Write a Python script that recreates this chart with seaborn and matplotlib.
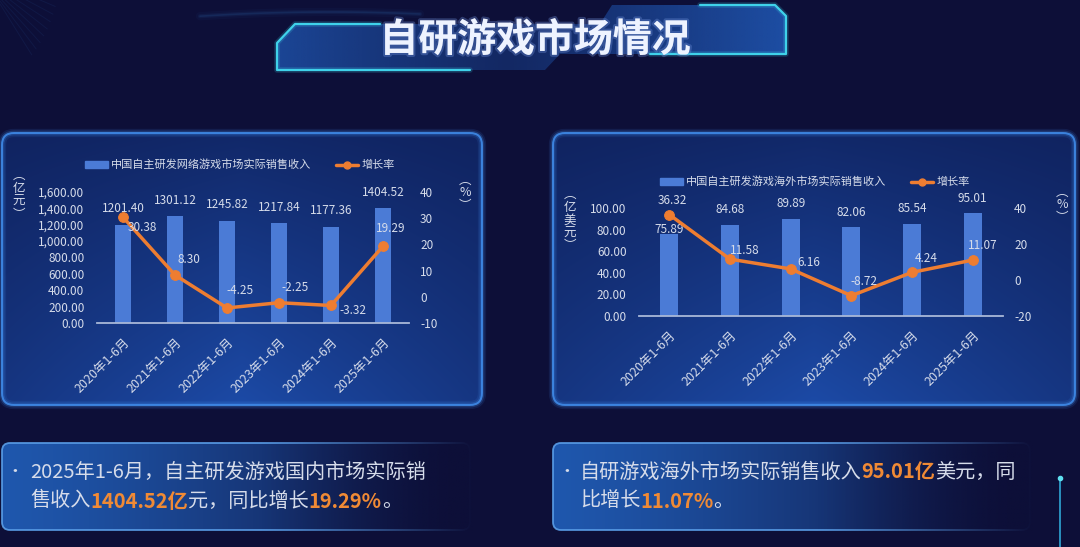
import numpy as np
import pandas as pd
import seaborn as sns
import matplotlib.pyplot as plt
import matplotlib.patheffects as pe
from matplotlib.patches import FancyBboxPatch, Polygon, Patch
from matplotlib.lines import Line2D

# data
periods = ["2020年1-6月", "2021年1-6月", "2022年1-6月", "2023年1-6月", "2024年1-6月", "2025年1-6月"]
domestic_rev = [1201.40, 1301.12, 1245.82, 1217.84, 1177.36, 1404.52]
domestic_growth = [30.38, 8.30, -4.25, -2.25, -3.32, 19.29]
overseas_rev = [75.89, 84.68, 89.89, 82.06, 85.54, 95.01]
overseas_growth = [36.32, 11.58, 6.16, -8.72, 4.24, 11.07]

domestic_name = "中国自主研发网络游戏市场实际销售收入"
overseas_name = "中国自主研发游戏海外市场实际销售收入"
growth_name = "增长率"
title = "自研游戏市场情况"

W, H = 1080, 547
BG = "#0d0f38"
BAR = "#4b7bd6"
ORANGE = "#ee7d31"
TXT = "#d6dcea"
HL = "#f08a35"

sns.set_theme(style="white")
plt.rcParams["font.family"] = ["Noto Sans CJK SC", "DejaVu Sans"]

fig = plt.figure(figsize=(W / 100, H / 100), dpi=100, facecolor=BG)
bg = fig.add_axes([0, 0, 1, 1])
bg.set_xlim(0, W)
bg.set_ylim(H, 0)
bg.set_autoscale_on(False)
bg.axis("off")


def px_rect(x0, y0, x1, y1):
    return [x0 / W, 1 - y1 / H, (x1 - x0) / W, (y1 - y0) / H]


def hex_rgb(c):
    c = c.lstrip("#")
    return np.array([int(c[i:i + 2], 16) / 255 for i in (0, 2, 4)])


#faint rays in the top-left corner and a swoosh toward the banner
for k in range(9):
    ang = np.deg2rad(18 + k * 5)
    bg.plot([0, 60 * np.cos(ang)], [-20 + k * 3, 60 * np.sin(ang) - 20 + k * 3],
            color="#2a5fa8", lw=0.7, alpha=0.12, zorder=0)
sx = np.linspace(200, 420, 60)
for lw, a in [(6, 0.04), (3, 0.07), (1.2, 0.12)]:
    bg.plot(sx, 12 + 0.00025 * (sx - 330) ** 2, color="#3a86d8", lw=lw, alpha=a, zorder=0)


#panels behind the charts
def panel(x0, y0, x1, y1):
    box = FancyBboxPatch((x0, y0), x1 - x0, y1 - y0, boxstyle="round,pad=0,rounding_size=12",
                         fc="none", ec="none")
    bg.add_patch(box)
    yy, xx = np.mgrid[0:1:120j, 0:1:240j]
    t = (0.25 + 0.75 * yy) * (1 - 0.45 * np.abs(xx - 0.5) * 2)
    top, bot = hex_rgb("#0e1d55"), hex_rgb("#1c4aa6")
    img = top + (bot - top) * t[..., None]
    im = bg.imshow(img, extent=(x0, x1, y1, y0), aspect="auto", zorder=1, interpolation="bilinear")
    im.set_clip_path(box)
    for lw, a in [(6, 0.12), (3.5, 0.25), (1.4, 0.9)]:
        bg.add_patch(FancyBboxPatch((x0, y0), x1 - x0, y1 - y0, boxstyle="round,pad=0,rounding_size=12",
                                    fc="none", ec="#3f8ae8", lw=lw, alpha=a, zorder=2))


panel(2, 133, 482, 405)
panel(553, 133, 1075, 405)


#note boxes at the bottom
def note_box(x0, y0, x1, y1):
    shape = FancyBboxPatch((x0, y0), x1 - x0, y1 - y0, boxstyle="round,pad=0,rounding_size=8",
                           fc="none", ec="none")
    bg.add_patch(shape)
    xx = np.linspace(0, 1, 300)
    a, b = hex_rgb("#1f57ad"), hex_rgb(BG)
    row = a + (b - a) * (xx ** 1.3)[:, None]
    img = np.repeat(row[None, :, :], 20, axis=0)
    im = bg.imshow(img, extent=(x0, x1, y1, y0), aspect="auto", zorder=1, interpolation="bilinear")
    im.set_clip_path(shape)
    bg.add_patch(FancyBboxPatch((x0, y0), x1 - x0, y1 - y0, boxstyle="round,pad=0,rounding_size=8",
                                fc="none", ec="#5a9ee8", lw=1.3, alpha=0.9, zorder=2))
    fade = np.zeros((4, 300, 4))
    fade[..., :3] = hex_rgb(BG)
    fade[..., 3] = np.clip((xx - 0.55) / 0.45, 0, 1) ** 1.2
    bg.imshow(fade, extent=(x0 - 2, x1 + 3, y1 + 3, y0 - 3), aspect="auto", zorder=3, interpolation="bilinear")


note_box(2, 443, 470, 530)
note_box(553, 443, 1030, 530)

#title banner
banner = Polygon([(277, 70), (277, 43), (295, 24), (600, 24), (612, 5), (775, 5), (786, 16),
                  (786, 54), (560, 54), (545, 70)], closed=True, fc="none", ec="none")
bg.add_patch(banner)
xx = np.linspace(0, 1, 300)
brow = np.zeros((10, 300, 4))
brow[..., :3] = hex_rgb("#2058b5")
brow[..., 3] = 0.35 + 0.55 * np.abs(xx - 0.45) ** 1.2 * 1.9
im = bg.imshow(brow, extent=(277, 786, 70, 5), aspect="auto", zorder=1, interpolation="bilinear")
im.set_clip_path(banner)
edge = "#3fd2ea"
for lw, a in [(4, 0.2), (1.6, 1)]:
    bg.plot([470, 277, 277, 295, 380], [70, 70, 43, 24, 24], color=edge, lw=lw, alpha=a, zorder=2)
    bg.plot([700, 775, 786, 786, 650], [5, 5, 16, 54, 54], color=edge, lw=lw, alpha=a, zorder=2)
bg.text(535, 40, title, ha="center", va="center", fontsize=28, fontweight="bold", color="#eef3ff",
        zorder=5, path_effects=[pe.withStroke(linewidth=3, foreground="#6f8fd8", alpha=0.35)])

#little line at the right edge
bg.plot([1060, 1060], [478, 547], color="#2fa7d6", lw=1.2, zorder=2)
bg.plot([1060], [478], "o", color="#5fe0f0", ms=3, zorder=2)


def draw_chart(rect, rev, growth, ylim_l, yticks_l, fmt_l, ylim_r, yticks_r,
               bar_off, line_off, legend_xy, name, unit_l, unit_l_xy, unit_r_xy):
    ax = fig.add_axes(px_rect(*rect))
    ax.set_facecolor("none")
    df = pd.DataFrame({"period": periods, "rev": rev})
    sns.barplot(data=df, x="period", y="rev", color=BAR, saturation=1, width=0.3, ax=ax, zorder=2,
                edgecolor="none", linewidth=0)
    ax2 = ax.twinx()
    sns.lineplot(x=np.arange(len(growth)), y=growth, ax=ax2, color=ORANGE, lw=2.5, marker="o",
                 markersize=7, markeredgecolor=ORANGE, zorder=4)
    ax.set_xlim(-0.5, len(periods) - 0.5)
    ax.set_ylim(*ylim_l)
    ax.set_yticks(yticks_l)
    ax.set_yticklabels([fmt_l.format(v) for v in yticks_l])
    ax2.set_ylim(*ylim_r)
    ax2.set_yticks(yticks_r)
    ax2.set_yticklabels([str(v) for v in yticks_r])
    ax.set_xticks(range(len(periods)))
    ax.set_xticklabels(periods, rotation=45, ha="right", rotation_mode="anchor")
    ax.set_xticks(np.arange(-0.5, len(periods), 1), minor=True)
    for a in (ax, ax2):
        a.set_xlabel("")
        a.set_ylabel("")
        a.grid(False)
        for s in a.spines.values():
            s.set_visible(False)
    ax.spines["bottom"].set_visible(True)
    ax.spines["bottom"].set_color("#a9b8d8")
    ax.spines["bottom"].set_linewidth(1.3)
    ax.tick_params(axis="x", which="major", length=0, pad=9, labelsize=9, labelcolor=TXT)
    ax.tick_params(axis="x", which="minor", length=4, width=1.2, color="#a9b8d8", direction="out")
    ax.tick_params(axis="y", length=0, pad=9, labelsize=8.5, labelcolor=TXT)
    ax2.tick_params(axis="y", length=0, pad=8, labelsize=8.5, labelcolor=TXT)

    for i, v in enumerate(rev):
        ax.annotate(f"{v:.2f}", (i, v), xytext=(0, bar_off[i] * 0.72), textcoords="offset points",
                    ha="center", va="center", color=TXT, fontsize=8.5, zorder=3)
    for i, g in enumerate(growth):
        dx, dy = line_off[i]
        ax2.annotate(f"{g:.2f}", (i, g), xytext=(dx * 0.72, dy * 0.72), textcoords="offset points",
                     ha="center", va="center", color=TXT, fontsize=8.5, zorder=5)

    handles = [Patch(color=BAR, label=name),
               Line2D([0], [0], color=ORANGE, lw=2.5, marker="o", ms=5, label=growth_name)]
    fig.legend(handles=handles, loc="center", bbox_to_anchor=(legend_xy[0] / W, 1 - legend_xy[1] / H),
               ncol=2, frameon=False, fontsize=8, labelcolor=TXT, handlelength=2.0, handleheight=0.6,
               columnspacing=2.2, handletextpad=0.3)
    bg.text(unit_l_xy[0], unit_l_xy[1], "\n".join(["︵"] + list(unit_l) + ["︶"]), ha="center",
            va="center", fontsize=9, color=TXT, linespacing=1.0)
    bg.text(unit_r_xy[0], unit_r_xy[1], "︵\n%\n︶", ha="center", va="center", fontsize=9,
            color=TXT, linespacing=1.0)


draw_chart((97, 192, 409, 323), domestic_rev, domestic_growth, (0, 1600), list(range(0, 1601, 200)),
           "{:,.2f}", (-10, 40), [-10, 0, 10, 20, 30, 40],
           [16, 16, 16, 16, 16, 16],
           [(19, -10), (14, 16), (13, 17), (16, 15), (22, -5), (8, 18)],
           (240, 165), domestic_name, "亿元", (19, 195), (465, 193))

draw_chart((639, 208, 1003, 316), overseas_rev, overseas_growth, (0, 100), list(range(0, 101, 20)),
           "{:.2f}", (-20, 40), [-20, 0, 20, 40],
           [5, 15, 15, 15, 15, 15],
           [(3, 14), (15, 9), (18, 6), (13, 14), (14, 14), (10, 15)],
           (815, 182), overseas_name, "亿美元", (570, 220), (1062, 205))

#bullet notes with orange highlights
fig.canvas.draw()
rend = fig.canvas.get_renderer()


def rich_line(x, y, parts, size=14.5):
    for s, color, weight in parts:
        t = bg.text(x, y, s, color=color, fontsize=size, fontweight=weight, ha="left", va="center", zorder=6)
        bb = t.get_window_extent(renderer=rend)
        x = bg.transData.inverted().transform((bb.x1, bb.y0))[0]


N, B = "normal", "bold"
bg.text(15, 472, "•", color=TXT, fontsize=12, ha="center", va="center", zorder=6)
rich_line(30, 472, [("2025年1-6月，自主研发游戏国内市场实际销", TXT, N)])
rich_line(30, 501, [("售收入", TXT, N), ("1404.52亿", HL, B), ("元，同比增长", TXT, N),
                    ("19.29%", HL, B), ("。", TXT, N)])
bg.text(567, 472, "•", color=TXT, fontsize=12, ha="center", va="center", zorder=6)
rich_line(580, 472, [("自研游戏海外市场实际销售收入", TXT, N), ("95.01亿", HL, B), ("美元，同", TXT, N)])
rich_line(580, 501, [("比增长", TXT, N), ("11.07%", HL, B), ("。", TXT, N)])

fig.savefig("out.png", dpi=100, facecolor=BG)
